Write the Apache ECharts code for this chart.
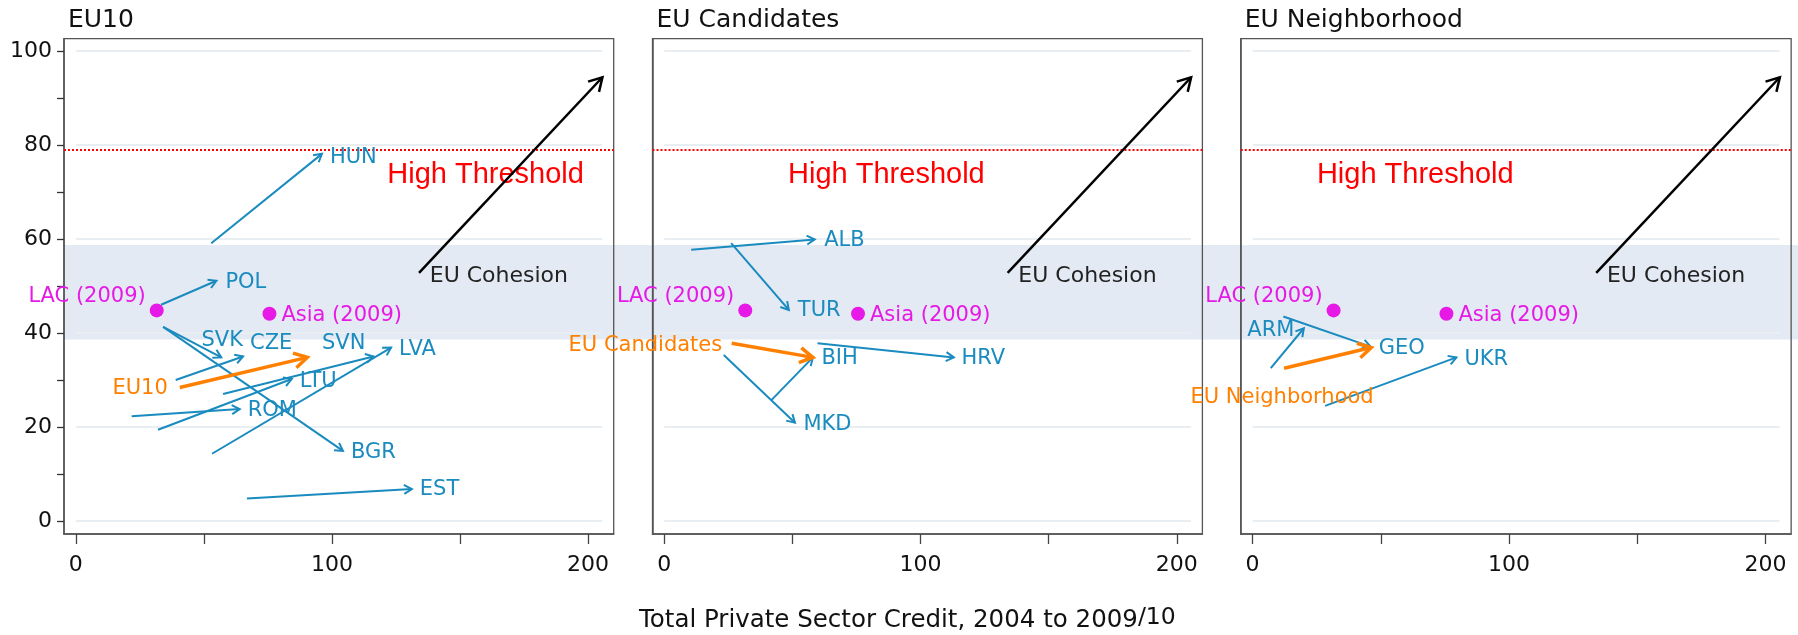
<!DOCTYPE html>
<html>
<head>
<meta charset="utf-8">
<script src="https://cdn.jsdelivr.net/npm/echarts@6/dist/echarts.min.js"></script>
<style>
  html, body { margin: 0; padding: 0; background: #ffffff; }
  #chart { width: 1798px; height: 635px; }
</style>
</head>
<body>
<div id="chart"></div>
<script>
// ---------- data ----------
const panelNames = ['EU10', 'EU Candidates', 'EU Neighborhood'];

// Country moves: [label, credit start, score start, credit end, score end]
const eu10Moves = [
  ['HUN', 52.9, 59.1, 96.1, 78.1],
  ['POL', 33.3, 46.0, 54.9, 51.1],
  ['BGR', 34.1, 41.3, 104.3, 14.9],
  ['SVK', 34.1, 41.3, 56.8, 34.8],
  ['CZE', 39.0, 30.0, 65.3, 35.0],
  ['SVN', 57.5, 27.0, 116.2, 35.0],
  ['LVA', 53.2, 14.3, 123.1, 36.9],
  ['LTU', 32.1, 19.4, 84.3, 30.2],
  ['ROM', 21.8, 22.3, 64.0, 23.8],
  ['EST', 66.8, 4.8, 131.2, 6.8]
];
const candidateMoves = [
  ['ALB', 10.5, 57.7, 58.7, 59.9],
  ['TUR', 26.1, 59.1, 48.6, 44.9],
  ['BIH', 41.8, 25.7, 58.0, 34.8],
  ['MKD', 23.2, 35.3, 51.0, 20.9],
  ['HRV', 59.8, 37.8, 113.0, 34.8]
];
const neighborhoodMoves = [
  ['ARM', 7.1, 32.5, 20.0, 41.0],
  ['GEO', 12.0, 43.5, 46.0, 37.1],
  ['UKR', 28.3, 24.5, 79.5, 34.8]
];

// Group averages
const groupMoves = [
  ['EU10', 40.6, 28.4, 90.4, 34.8],
  ['EU Candidates', 26.3, 37.8, 58.0, 34.8],
  ['EU Neighborhood', 12.3, 32.5, 46.3, 36.9]
];

// Reference points and the EU cohesion path (same in every panel)
const benchmarkPoints = [
  ['LAC (2009)', 31.6, 44.8],
  ['Asia (2009)', 75.6, 44.1]
];
const cohesionPath = ['EU Cohesion', 134.0, 52.8, 205.6, 94.4];

const highThreshold = 79;
const highThresholdText = 'High Threshold';
const cohesionBand = [38.6, 58.7];

const xTickValues = [0, 50, 100, 150, 200];
const xLabelValues = [0, 100, 200];
const yTickValues = [0, 10, 20, 30, 40, 50, 60, 70, 80, 90, 100];
const yLabelValues = [0, 20, 40, 60, 80, 100];
const gridLineValues = [0, 20, 40, 60, 80, 100];
const xTitleMain = 'Total Private Sector Credit, 2004 to 2009';
const xTitleNote = '/10';

// ---------- layout & styles ----------
const W = 1798, H = 635;
const panelLeft = [64, 652.5, 1240.75];
const panelWidth = [549.7, 549.9, 550.4];
const panelTop = 38.7, panelHeight = 495.3;
const xRange = [-4.6, 210];
const yRange = [-2.77, 102.6];
const gridLineSpan = [0, 205.5];
const thresholdTextAt = [[121.6, 73.7], [48.3, 73.7], [25.1, 73.7]];

const FONT = "'DejaVu Sans', sans-serif";
const ARIAL = "'Liberation Sans', Arial, sans-serif";
const BLUE = '#1a8bbf', ORANGE = '#ff8000', MAGENTA = '#e619e6', FRAME = '#555555';

const arrowStyles = {
  country:  { color: BLUE,   width: 2,   head: 9,  label: BLUE,    font: 21 },
  group:    { color: ORANGE, width: 3.5, head: 15, label: ORANGE,  font: 21 },
  cohesion: { color: '#000', width: 2.5, head: 15, label: '#222',  font: 22 }
};

// where each move's label sits, relative to its start or end point (px)
const labelPlace = {
  HUN: { at: 'end', dx: 8, dy: 4 },
  POL: { at: 'end', dx: 9, dy: 2 },
  BGR: { at: 'end', dx: 8, dy: 2 },
  SVK: { at: 'end', dx: 1, dy: -17, align: 'center' },
  CZE: { at: 'end', dx: 7, dy: -13 },
  SVN: { at: 'end', dx: -8, dy: -13, align: 'right' },
  LVA: { at: 'end', dx: 8, dy: 2 },
  LTU: { at: 'end', dx: 8, dy: 3 },
  ROM: { at: 'end', dx: 8, dy: 1 },
  EST: { at: 'end', dx: 8, dy: 1 },
  ALB: { at: 'end', dx: 9.5, dy: 1 },
  TUR: { at: 'end', dx: 9, dy: 1 },
  BIH: { at: 'end', dx: 8.5, dy: 1 },
  MKD: { at: 'end', dx: 8.5, dy: 2 },
  HRV: { at: 'end', dx: 7.6, dy: 1 },
  ARM: { at: 'end', dx: -9.4, dy: 2, align: 'right' },
  GEO: { at: 'end', dx: 8.3, dy: 2 },
  UKR: { at: 'end', dx: 8, dy: 2 },
  'EU10': { at: 'start', dx: -12, dy: 1, align: 'right' },
  'EU Candidates': { at: 'start', dx: -9.5, dy: 2, align: 'right' },
  'EU Neighborhood': { at: 'start', dx: -2, dy: 29, align: 'center' },
  'EU Cohesion': { at: 'start', dx: 10.7, dy: 3 }
};
const pointLabelPlace = {
  'LAC (2009)':  { position: 'left',  distance: 4, offset: [0, -14] },
  'Asia (2009)': { position: 'right', distance: 5, offset: [0, 2] }
};

// ---------- series builders ----------
function arrowSeries(panel, moves, kind) {
  const st = arrowStyles[kind];
  return {
    type: 'custom',
    xAxisIndex: panel, yAxisIndex: panel,
    z: kind === 'country' ? 5 : 6,
    silent: true,
    data: moves.map(m => [m[1], m[2], m[3], m[4]]),
    encode: { x: [0, 2], y: [1, 3] },
    renderItem(params, api) {
      const m = moves[params.dataIndex];
      const p0 = api.coord([api.value(0), api.value(1)]);
      const p1 = api.coord([api.value(2), api.value(3)]);
      const ang = Math.atan2(p1[1] - p0[1], p1[0] - p0[0]);
      const a = Math.PI / 6;
      const h1 = [p1[0] - st.head * Math.cos(ang - a), p1[1] - st.head * Math.sin(ang - a)];
      const h2 = [p1[0] - st.head * Math.cos(ang + a), p1[1] - st.head * Math.sin(ang + a)];
      const place = labelPlace[m[0]];
      const anchor = place.at === 'start' ? p0 : p1;
      return {
        type: 'group',
        children: [
          { type: 'line', shape: { x1: p0[0], y1: p0[1], x2: p1[0], y2: p1[1] },
            style: { stroke: st.color, lineWidth: st.width } },
          { type: 'polyline', shape: { points: [h1, p1, h2] },
            style: { stroke: st.color, lineWidth: st.width, fill: null } },
          { type: 'text', x: anchor[0] + place.dx, y: anchor[1] + place.dy,
            style: { text: m[0], fill: st.label, fontSize: st.font, fontFamily: FONT,
                     align: place.align || 'left', verticalAlign: 'middle' } }
        ]
      };
    }
  };
}

function pointSeries(panel) {
  return {
    type: 'scatter',
    xAxisIndex: panel, yAxisIndex: panel,
    z: 7, silent: true,
    symbolSize: 14,
    itemStyle: { color: MAGENTA, opacity: 1 },
    data: benchmarkPoints.map(b => ({
      value: [b[1], b[2]],
      name: b[0],
      label: Object.assign({
        show: true, formatter: b[0], color: MAGENTA,
        fontSize: 21, fontFamily: FONT
      }, pointLabelPlace[b[0]])
    }))
  };
}

function guideSeries(panel) {
  return {
    type: 'line',
    xAxisIndex: panel, yAxisIndex: panel,
    data: [], z: 3, silent: true,
    markLine: {
      silent: true, symbol: ['none', 'none'], label: { show: false }, animation: false,
      data: gridLineValues.map(v => [
        { coord: [gridLineSpan[0], v], lineStyle: { color: '#e8eef1', width: 2, type: 'solid' } },
        { coord: [gridLineSpan[1], v] }
      ]).concat([
        { yAxis: highThreshold, lineStyle: { color: '#ff0000', width: 2, type: [2, 2] } }
      ])
    }
  };
}

function thresholdTextSeries(panel) {
  return {
    type: 'custom',
    xAxisIndex: panel, yAxisIndex: panel,
    z: 4, silent: true,
    data: [thresholdTextAt[panel]],
    renderItem(params, api) {
      const p = api.coord([api.value(0), api.value(1)]);
      return { type: 'text', x: p[0], y: p[1],
        style: { text: highThresholdText, fill: '#ff0000', fontSize: 29, fontFamily: ARIAL,
                 align: 'left', verticalAlign: 'middle' } };
    }
  };
}

const panelMoves = [eu10Moves, candidateMoves, neighborhoodMoves];

const grids = [], xAxes = [], yAxes = [], series = [], titles = [];
for (let p = 0; p < 3; p++) {
  grids.push({ left: panelLeft[p], top: panelTop, width: panelWidth[p], height: panelHeight,
               show: true, borderColor: FRAME, borderWidth: 1.3, backgroundColor: 'transparent' });
  xAxes.push({
    type: 'value', gridIndex: p, min: xRange[0], max: xRange[1],
    axisLine: { show: true, onZero: false, lineStyle: { color: FRAME, width: 1.5 } },
    axisTick: { show: true, customValues: xTickValues, length: 10, lineStyle: { color: '#444', width: 1.3 } },
    axisLabel: { show: true, customValues: xLabelValues, margin: 20, fontSize: 22,
                 fontFamily: FONT, color: '#111' },
    splitLine: { show: false }
  });
  yAxes.push({
    type: 'value', gridIndex: p, min: yRange[0], max: yRange[1],
    axisLine: { show: true, onZero: false, lineStyle: { color: FRAME, width: 1.5 } },
    axisTick: { show: p === 0, customValues: yTickValues, length: 7, lineStyle: { color: '#333', width: 1.3 } },
    axisLabel: { show: p === 0, customValues: yLabelValues, margin: 12, fontSize: 22,
                 fontFamily: FONT, color: '#111' },
    splitLine: { show: false }
  });
  series.push(guideSeries(p));
  series.push(thresholdTextSeries(p));
  series.push(arrowSeries(p, panelMoves[p], 'country'));
  series.push(arrowSeries(p, [groupMoves[p]], 'group'));
  series.push(arrowSeries(p, [cohesionPath], 'cohesion'));
  series.push(pointSeries(p));
  titles.push({ text: panelNames[p], left: panelLeft[p] + 4, top: 8, padding: 0,
                textStyle: { fontFamily: FONT, fontSize: 25, fontWeight: 'normal', color: '#111' } });
}
titles.push({
  text: '{m|' + xTitleMain + '}{s|' + xTitleNote + '}',
  left: 639, top: 606, padding: 0,
  textStyle: {
    fontWeight: 'normal',
    rich: {
      m: { fontFamily: FONT, fontSize: 24.5, fontWeight: 'normal', color: '#111', lineHeight: 30 },
      s: { fontFamily: FONT, fontSize: 23.5, fontWeight: 'normal', color: '#111', lineHeight: 23, verticalAlign: 'top' }
    }
  }
});

const chart = echarts.init(document.getElementById('chart'), null, { renderer: 'canvas', width: W, height: H });
chart.setOption({
  animation: false,
  backgroundColor: '#ffffff',
  title: titles,
  grid: grids,
  xAxis: xAxes,
  yAxis: yAxes,
  series: series
});

// shaded cohesion band running from the first panel to the right edge
const bandTop = chart.convertToPixel({ yAxisIndex: 0 }, cohesionBand[1]);
const bandBottom = chart.convertToPixel({ yAxisIndex: 0 }, cohesionBand[0]);
const bandLeft = chart.convertToPixel({ xAxisIndex: 0 }, xRange[0]);
chart.setOption({
  graphic: [{
    type: 'rect', z: -10, silent: true,
    shape: { x: bandLeft, y: bandTop, width: W - bandLeft, height: bandBottom - bandTop },
    style: { fill: '#e3eaf3' }
  }]
});
</script>
</body>
</html>
